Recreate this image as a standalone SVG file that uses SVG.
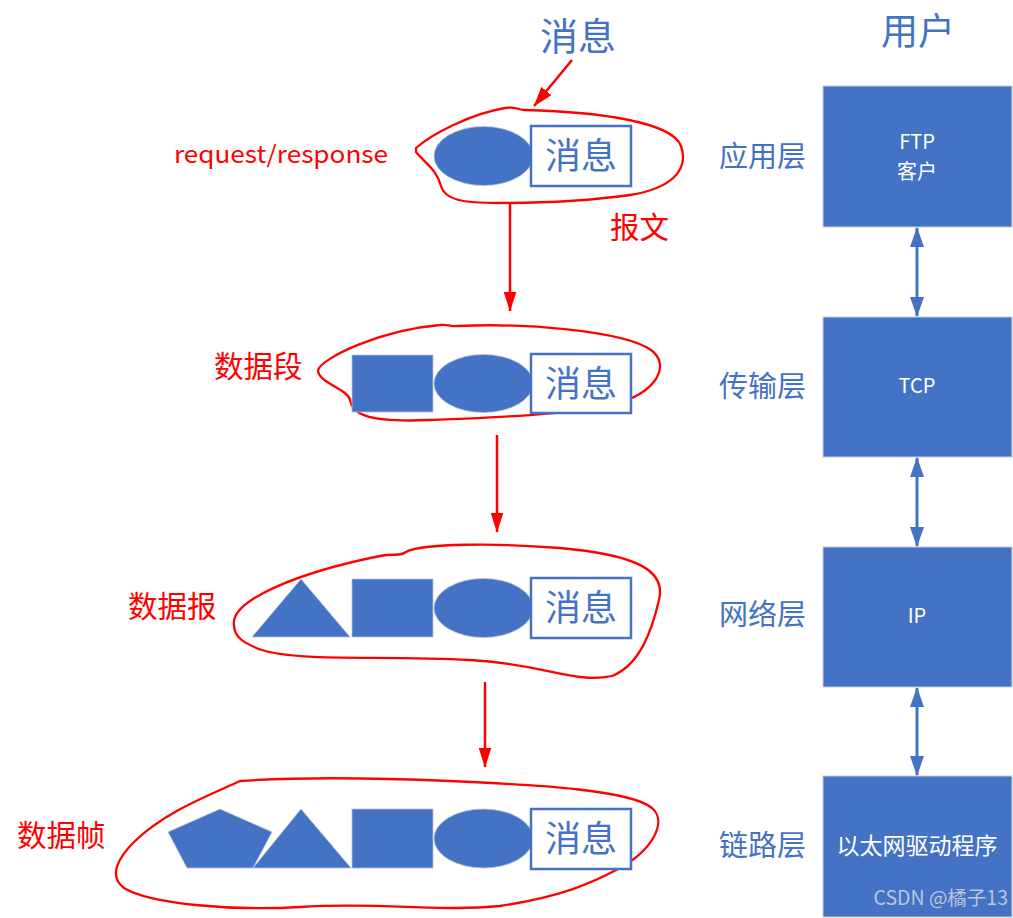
<svg xmlns="http://www.w3.org/2000/svg" width="1013" height="918" viewBox="0 0 1013 918">
<defs>
<style>
.t{font-family:"Noto Sans CJK SC","Liberation Sans",sans-serif}
.shape{fill:#4472C4;stroke:#B4C0D8;stroke-width:0.8}
.msg{fill:#FFFFFF;stroke:#4472C4;stroke-width:2.5}
.msgt{font-size:36px;fill:#4472C4;text-anchor:middle}
.blob{fill:none;stroke:#FF0000;stroke-width:2.3}
.layer{fill:#4472C4;stroke:#C8CCD4;stroke-width:1}
.lt{font-size:20px;fill:#FFFFFF;text-anchor:middle}
.lab{font-size:29px;fill:#4472C4}
.rl{font-size:29.5px;fill:#FF0000}
.ra{stroke:#FF0000;stroke-width:2.5;fill:none}
.ba{stroke:#4472C4;stroke-width:3;fill:none}
</style>
<marker id="rah" viewBox="0 0 20 13" refX="19.5" refY="6.5" markerWidth="20" markerHeight="13" markerUnits="userSpaceOnUse" orient="auto"><path d="M0,0 L20,6.5 L0,13 Z" fill="#FF0000"/></marker>
<marker id="bah" viewBox="0 0 20 14" refX="19" refY="7" markerWidth="20" markerHeight="14" markerUnits="userSpaceOnUse" orient="auto-start-reverse"><path d="M0,0 L20,7 L0,14 Z" fill="#4472C4"/></marker>
</defs>
<rect width="1013" height="918" fill="#FFFFFF"/>

<text class="t" x="578" y="50" font-size="38" fill="#4472C4" text-anchor="middle">消息</text>
<text class="t" x="918" y="45" font-size="37" fill="#4472C4" text-anchor="middle">用户</text>

<g id="row1">
<path class="blob" d="M416,148 C432,134 470,114 505,108 C515,106 518,110 525,110 C600,112 672,122 681,146 C690,172 668,189 630,195 C580,202 540,203 500,203 C462,203 445,200 441,186 C437,170 426,164 416,152 Z"/>
<ellipse class="shape" cx="483.5" cy="156" rx="49.5" ry="29.5"/>
<rect class="msg" x="531" y="126" width="100" height="60"/>
<text class="t msgt" x="581" y="169">消息</text>
</g>
<text class="t" x="174" y="163" font-size="24" fill="#FF0000" textLength="214" lengthAdjust="spacingAndGlyphs">request/response</text>
<text class="t rl" x="610" y="238">报文</text>

<g id="row2">
<path class="blob" d="M318,370 C322,358 380,330 440,325 C448,324 452,327 458,326 C520,323 622,330 651,350 C670,364 660,392 612,405 C570,415 480,418 430,420 C362,423 352,412 350,400 C347,388 318,383 318,370 Z"/>
<rect class="shape" x="352" y="355" width="81" height="57"/>
<ellipse class="shape" cx="483.5" cy="383.5" rx="49.5" ry="29"/>
<rect class="msg" x="531" y="354" width="100" height="59"/>
<text class="t msgt" x="581" y="397">消息</text>
</g>
<text class="t rl" x="214" y="377">数据段</text>

<g id="row3">
<path class="blob" d="M234,625 C230,600 300,572 380,556 C394,553 400,557 406,552 C422,543 500,543 560,548 C640,555 666,572 659,600 C652,630 640,665 612,676 C575,684 545,664 470,660 C380,655 300,662 262,650 C242,643 234,636 234,625 Z"/>
<polygon class="shape" points="301,579 350,637 252,637"/>
<rect class="shape" x="352" y="579" width="81" height="58"/>
<ellipse class="shape" cx="483.5" cy="608" rx="49.5" ry="29.5"/>
<rect class="msg" x="531" y="578" width="100" height="60"/>
<text class="t msgt" x="581" y="621">消息</text>
</g>
<text class="t rl" x="128" y="617">数据报</text>

<g id="row4">
<path class="blob" d="M240,781 C300,777 380,778 450,781 C540,785 630,790 652,808 C668,822 652,850 620,868 C590,884 560,897 500,906 C440,912 380,902 300,907 C230,911 150,904 124,888 C108,876 118,858 134,842 C165,812 205,797 240,781 Z"/>
<polygon class="shape" points="168,832 220,809 272,832 253,868 187,868"/>
<polygon class="shape" points="301,809 351,868 253,868"/>
<rect class="shape" x="352" y="809" width="81" height="59"/>
<ellipse class="shape" cx="483.5" cy="838.5" rx="49.5" ry="29.5"/>
<rect class="msg" x="531" y="809" width="100" height="60"/>
<text class="t msgt" x="581" y="852">消息</text>
</g>
<text class="t rl" x="17" y="846">数据帧</text>

<text class="t lab" x="719" y="167">应用层</text>
<text class="t lab" x="719" y="397">传输层</text>
<text class="t lab" x="719" y="625">网络层</text>
<text class="t lab" x="719" y="856">链路层</text>

<g id="layer-app">
<rect class="layer" x="823" y="86" width="189" height="141"/>
<text class="t lt" x="917" y="149">FTP</text>
<text class="t lt" x="917" y="179">客户</text>
</g>
<g id="layer-tcp">
<rect class="layer" x="823" y="317" width="189" height="140"/>
<text class="t lt" x="917" y="393">TCP</text>
</g>
<g id="layer-ip">
<rect class="layer" x="823" y="547" width="189" height="140"/>
<text class="t lt" x="917" y="623">IP</text>
</g>
<g id="layer-eth">
<rect class="layer" x="823" y="776" width="189" height="141"/>
<text class="t" x="917" y="854" font-size="23" fill="#FFFFFF" text-anchor="middle">以太网驱动程序</text>
<text class="t" x="1008" y="905" font-size="19.5" fill="#D0D6E2" fill-opacity="0.85" text-anchor="end">CSDN @橘子13</text>
</g>

<g id="connectors">
<line class="ra" x1="572" y1="60" x2="534" y2="106" marker-end="url(#rah)"/>
<line class="ra" x1="510" y1="203" x2="510" y2="311" marker-end="url(#rah)"/>
<line class="ra" x1="497" y1="435" x2="497" y2="532" marker-end="url(#rah)"/>
<line class="ra" x1="485" y1="682" x2="485" y2="767" marker-end="url(#rah)"/>
<line class="ba" x1="917" y1="228" x2="917" y2="316" marker-start="url(#bah)" marker-end="url(#bah)"/>
<line class="ba" x1="917" y1="458" x2="917" y2="546" marker-start="url(#bah)" marker-end="url(#bah)"/>
<line class="ba" x1="917" y1="688" x2="917" y2="775" marker-start="url(#bah)" marker-end="url(#bah)"/>
</g>
</svg>
